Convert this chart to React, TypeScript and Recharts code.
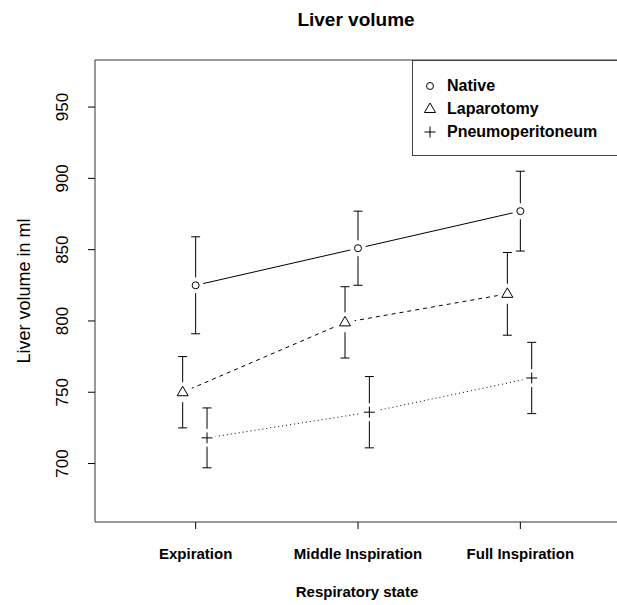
import {
  LineChart,
  Line,
  XAxis,
  YAxis,
  ErrorBar,
  ReferenceArea,
  Legend,
  Customized,
} from "recharts";

const states = ["Expiration", "Middle Inspiration", "Full Inspiration"];
const nativeMean = [825, 851, 877];
const nativeSd = [34, 26, 28];
const laparotomyMean = [750, 799, 819];
const laparotomySd = [25, 25, 29];
const pneumoMean = [718, 736, 760];
const pneumoSd = [21, 25, 25];
const yTicks = [700, 750, 800, 850, 900, 950];

const font = '"Liberation Sans", Arial, Helvetica, sans-serif';
const xDomain = [0.38, 3.62];
const yDomain = [659, 983];

const series = [
  { name: "Native", mean: nativeMean, sd: nativeSd, shift: 0, shape: "circle", dash: undefined, gap: 8 },
  { name: "Laparotomy", mean: laparotomyMean, sd: laparotomySd, shift: -0.08, shape: "triangle", dash: "4 4", gap: 10 },
  { name: "Pneumoperitoneum", mean: pneumoMean, sd: pneumoSd, shift: 0.07, shape: "plus", dash: "1 3", gap: 9 },
];

const toRows = (s: (typeof series)[number]) =>
  s.mean.map((m, i) => ({ x: i + 1 + s.shift, y: m, sd: s.sd[i] }));

function Marker({ shape, x, y }: { shape: string; x: number; y: number }) {
  if (shape === "circle") {
    return <circle cx={x} cy={y} r={3.5} fill="none" stroke="#000" />;
  }
  if (shape === "triangle") {
    return (
      <polygon
        points={`${x},${y - 6} ${x - 5.5},${y + 3.5} ${x + 5.5},${y + 3.5}`}
        fill="none"
        stroke="#000"
      />
    );
  }
  return (
    <path
      d={`M${x - 5.5},${y}H${x + 5.5}M${x},${y - 5.5}V${y + 5.5}`}
      stroke="#000"
      fill="none"
    />
  );
}

const XTick = (p: any) => (
  <text
    x={p.x}
    y={p.y + 28}
    textAnchor="middle"
    fontSize={15}
    fontWeight="bold"
    fontFamily={font}
    fill="#000"
  >
    {states[Math.round(p.payload.value) - 1]}
  </text>
);

const YTick = (p: any) => {
  const x = p.x - 18;
  return (
    <text
      x={x}
      y={p.y}
      transform={`rotate(-90 ${x} ${p.y})`}
      textAnchor="middle"
      fontSize={17}
      fontFamily={font}
      fill="#000"
    >
      {p.payload.value}
    </text>
  );
};

const Titles = () => (
  <g fontFamily={font} fill="#000">
    <text x={356} y={26} textAnchor="middle" fontSize={19} fontWeight="bold">
      Liver volume
    </text>
    <text x={357} y={597} textAnchor="middle" fontSize={15} fontWeight="bold">
      Respiratory state
    </text>
    <text
      x={30}
      y={291}
      transform="rotate(-90 30 291)"
      textAnchor="middle"
      fontSize={18}
    >
      Liver volume in ml
    </text>
  </g>
);

const LegendBox = () => (
  <div
    style={{
      width: 230,
      height: 96,
      border: "1px solid #444",
      boxSizing: "border-box",
      background: "#fff",
    }}
  >
    <svg width={230} height={96} style={{ display: "block", marginTop: -1, marginLeft: -1 }}>
      {series.map((s, i) => (
        <g key={s.name}>
          <Marker shape={s.shape} x={18} y={26 + i * 23} />
          <text
            x={35}
            y={31 + i * 23}
            fontSize={16}
            fontWeight="bold"
            fontFamily={font}
            fill="#000"
          >
            {s.name}
          </text>
        </g>
      ))}
    </svg>
  </div>
);

export default function App() {
  return (
    <div
      style={{
        position: "fixed",
        left: 0,
        top: 0,
        width: 617,
        height: 605,
        overflow: "hidden",
        background: "#fff",
      }}
    >
      <style>{"html,body{margin:0;padding:0;overflow:hidden}"}</style>
      <LineChart
        width={630}
        height={605}
        margin={{ top: 60, right: 9, bottom: 0, left: 0 }}
      >
        <XAxis
          type="number"
          dataKey="x"
          domain={xDomain}
          allowDataOverflow
          ticks={[1, 2, 3]}
          tick={XTick}
          tickSize={7}
          tickMargin={2}
          tickLine={{ stroke: "#000" }}
          axisLine={false}
          height={83}
        />
        <YAxis
          type="number"
          domain={yDomain}
          allowDataOverflow
          ticks={yTicks}
          tick={YTick}
          tickSize={7}
          tickMargin={2}
          tickLine={{ stroke: "#000" }}
          axisLine={false}
          width={95}
        />
        <ReferenceArea
          x1={xDomain[0]}
          x2={xDomain[1]}
          y1={yDomain[0]}
          y2={yDomain[1]}
          fill="none"
          stroke="#333"
          fillOpacity={0}
        />
        {series.map((s) => (
          <Line
            key={s.name}
            name={s.name}
            data={toRows(s)}
            dataKey="y"
            type="linear"
            stroke="#000"
            strokeWidth={1}
            strokeDasharray={s.dash}
            isAnimationActive={false}
            activeDot={false}
            dot={(p: any) => (
              <g key={`${s.name}-${p.index}`}>
                <circle cx={p.cx} cy={p.cy} r={s.gap} fill="#fff" />
                <Marker shape={s.shape} x={p.cx} y={p.cy} />
              </g>
            )}
          >
            <ErrorBar
              dataKey="sd"
              direction="y"
              width={4.5}
              stroke="#000"
              strokeWidth={1}
              isAnimationActive={false}
            />
          </Line>
        ))}
        <Legend
          layout="vertical"
          align="center"
          verticalAlign="middle"
          wrapperStyle={{ left: 412, top: 60, width: 230, height: 96 }}
          content={() => <LegendBox />}
        />
        <Customized component={Titles} />
      </LineChart>
    </div>
  );
}
